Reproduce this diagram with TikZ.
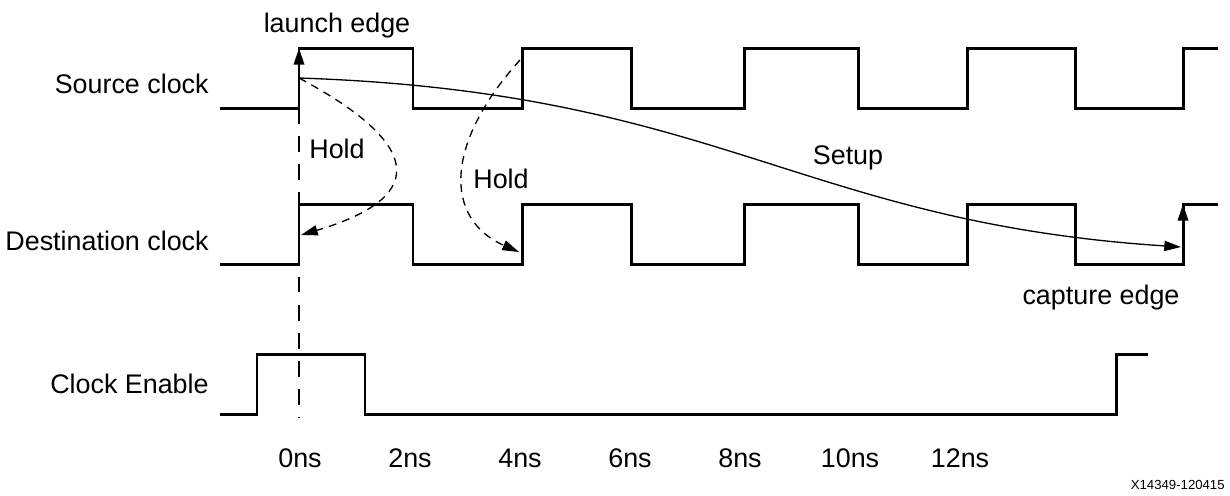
\documentclass[tikz,border=0pt]{standalone}
\usepackage{fontspec}
\setmainfont{Liberation Sans}
\usetikzlibrary{arrows.meta,positioning}
\definecolor{ink}{RGB}{0,0,0}
\tikzset{
  >={Triangle[length=9.5pt,width=5.8pt]},
  wave/.style={draw=ink,line width=1.7pt},
  guide/.style={draw=ink,line width=0.8pt,dash pattern=on 9pt off 7pt},
  holdarc/.style={->,draw=ink,line width=0.75pt,dash pattern=on 4.5pt off 3.5pt},
  setuparc/.style={->,draw=ink,line width=0.75pt},
  edgearrow/.style={->,draw=ink,line width=1.7pt},
  sig/.style={font=\fontsize{15.3}{18}\selectfont,anchor=base east,inner sep=0pt},
  tag/.style={font=\fontsize{15.3}{18}\selectfont,anchor=base,inner sep=0pt},
  stamp/.style={font=\fontsize{7.5}{9}\selectfont,anchor=base east,inner sep=0pt},
}

\begin{document}
\begin{tikzpicture}[x=0.02cm,y=-0.02cm]
    \useasboundingbox (0,0) rectangle (1230,495);
    % signal names
    \node[sig] (src) at (209,93) {Source clock};
    \node[sig] (dst) at (209,250) {Destination clock};
    \node[sig] (ce) at (209,393) {Clock Enable};
    % waveforms
    \draw[guide] (299,108) -- (299,418);
    \foreach \lo/\hi in {108/48,264/204}
      \draw[wave] (220,\lo) -| (299,\hi) -| (413,\lo) -| (522,\hi) -| (631,\lo) -| (744,\hi)
        -| (858,\lo) -| (967,\hi) -| (1075,\lo) -| (1183,\hi) -- (1218,\hi);
    \draw[wave] (220,414) -| (257,354) -| (365,414) -| (1116,354) -- (1148,354);
    % edges and paths
    \coordinate (launch) at (299,78);
    \coordinate (srcrise) at (299,108);
    \coordinate (srctop) at (299,48);
    \coordinate (hold0) at (301,235);
    \coordinate (hold4a) at (520,60);
    \coordinate (hold4b) at (519,252);
    \coordinate (capture) at (1181,247);
    \coordinate (dstrise) at (1183,264);
    \coordinate (dsttop) at (1183,204);
    \draw[edgearrow] (srcrise) -- (srctop);
    \draw[edgearrow] (dstrise) -- (dsttop);
    \draw[setuparc] (launch) .. controls +(421,14) and +(-382,-25) .. (capture);
    \draw[holdarc] (launch) .. controls +(116,62) and +(135,-40) .. (hold0);
    \draw[holdarc] (hold4a) .. controls +(-76,84) and +(-75,-33) .. (hold4b);
    \node[tag] (launchlbl) at (337,32) {launch edge};
    \node[tag] (capturelbl) at (1101,304) {capture edge};
    \node[tag] (hold0lbl) at (337,158) {Hold};
    \node[tag] (hold4lbl) at (501,188) {Hold};
    \node[tag] (setuplbl) at (848,164) {Setup};
    % time axis
    \foreach \t [count=\i from 0] in {0,2,...,12}
      \node[tag] (t\i) at (300+110*\i,467) {\t ns};
    \node[stamp] (figid) at (1225,489) {X14349-120415};
  \end{tikzpicture}
\end{document}
